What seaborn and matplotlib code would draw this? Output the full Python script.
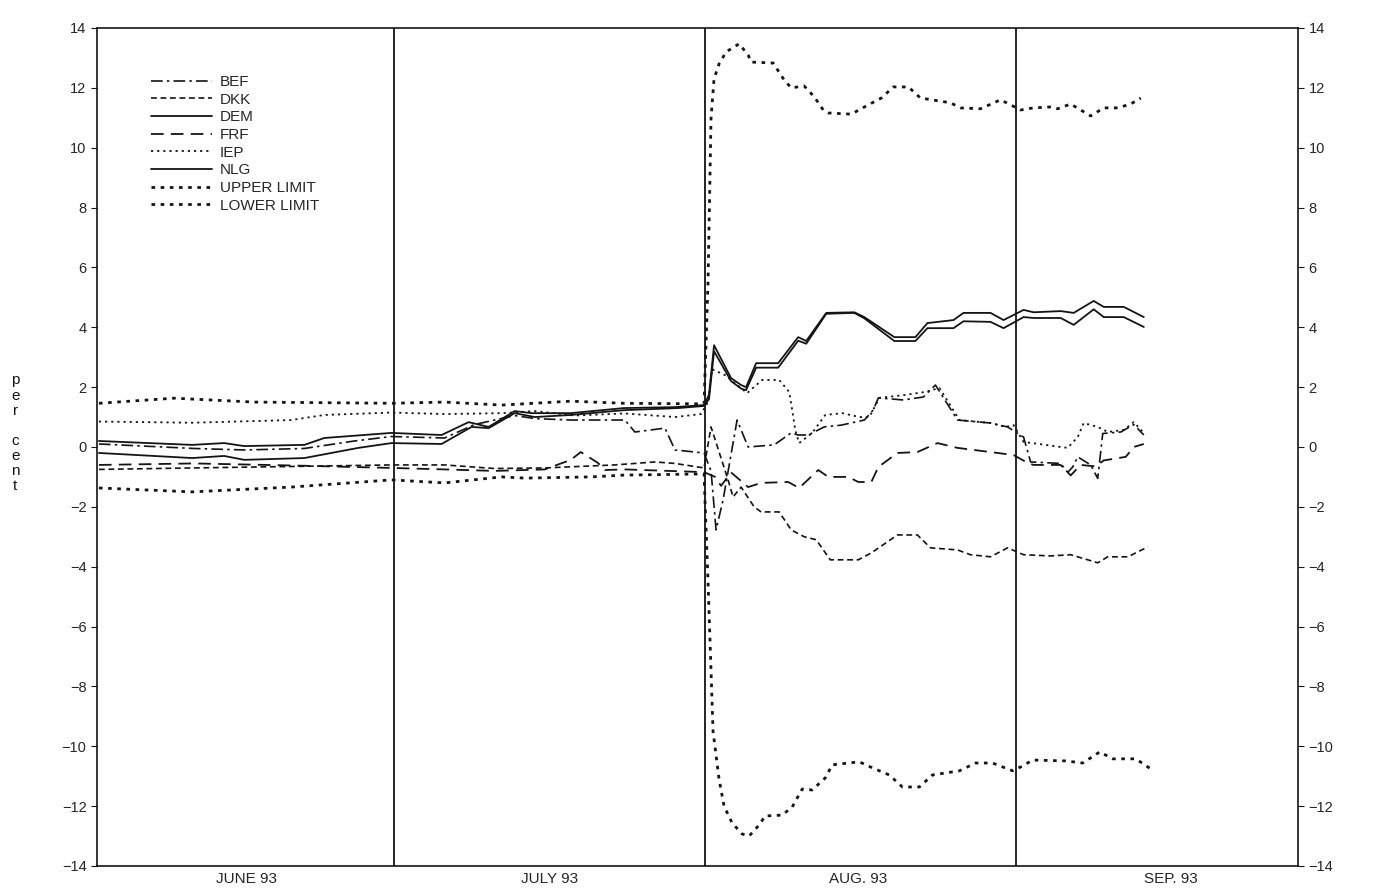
import matplotlib
matplotlib.use("Agg")
import matplotlib.pyplot as plt
import seaborn as sns
import pandas as pd

# Dane: (dzien od 1 czerwca 1993, odchylenie w %)
bef = [(0.5, 0.1), (10, -0.05), (15, -0.1), (21, -0.05), (26, 0.2), (29.7, 0.35), (35, 0.3), (38, 0.75),
       (42, 1.05), (44, 0.95), (47.6, 0.9), (53, 0.9), (54, 0.5), (57, 0.63), (58, -0.1), (60.9, -0.2),
       (61.6, -0.8), (62.1, -2.77), (62.8, -1.77), (64.2, 0.9), (65.3, 0.0), (67.9, 0.07), (69.6, 0.47),
       (70.3, 0.4), (71.3, 0.4), (72.9, 0.67), (74.6, 0.73), (76.9, 0.9), (77.8, 1.24), (78.3, 1.64),
       (80.8, 1.57), (82.8, 1.67), (84.0, 2.07), (86.2, 0.9), (89.5, 0.8), (91.2, 0.67), (92.8, 0.33),
       (93.5, -0.5), (96.5, -0.55), (97.2, -0.85), (97.7, -0.67), (98.2, -0.33), (99.5, -0.6),
       (100.2, -1.05), (100.7, 0.45), (102.5, 0.5), (103.8, 0.75), (104.8, 0.4)]
dkk = [(0.5, -0.75), (10, -0.7), (20, -0.65), (29.7, -0.6), (35, -0.6), (40, -0.72), (45, -0.7), (52, -0.6),
       (56, -0.5), (58, -0.55), (60.9, -0.7), (61.6, 0.67), (63.3, -1.1), (63.8, -1.67), (64.6, -1.34),
       (65.9, -2.0), (66.6, -2.17), (68.4, -2.17), (69.6, -2.77), (70.9, -3.0), (72.1, -3.1), (73.5, -3.77),
       (76.3, -3.77), (77.6, -3.54), (80.2, -2.94), (82.2, -2.94), (83.5, -3.37), (86.2, -3.44),
       (87.5, -3.6), (89.5, -3.67), (91.2, -3.37), (92.8, -3.6), (95.5, -3.64), (97.5, -3.6),
       (100.2, -3.87), (101.2, -3.67), (103.2, -3.67), (105.2, -3.34)]
dem = [(0.5, -0.2), (9.8, -0.37), (13, -0.3), (15, -0.43), (21, -0.37), (26.4, -0.03), (29.7, 0.13),
       (34.7, 0.1), (37.7, 0.67), (39.4, 0.63), (42, 1.13), (44, 1.0), (47.6, 1.07), (52.9, 1.23),
       (58.3, 1.3), (60.9, 1.37), (61.4, 1.6), (61.9, 3.2), (63.6, 2.2), (64.6, 1.95), (65.1, 1.9),
       (66.1, 2.65), (68.3, 2.65), (70.3, 3.55), (71.1, 3.45), (73.1, 4.45), (75.9, 4.48), (76.9, 4.3),
       (79.9, 3.54), (82, 3.54), (83.2, 3.97), (85.8, 3.97), (86.8, 4.2), (89.5, 4.18), (90.8, 3.97),
       (92.8, 4.34), (93.8, 4.31), (96.5, 4.31), (97.8, 4.08), (99.8, 4.6), (100.8, 4.34), (102.8, 4.34),
       (104.8, 4.01)]
frf = [(0.5, -0.6), (10, -0.55), (20, -0.62), (29.7, -0.7), (35, -0.75), (40, -0.8), (45, -0.75),
       (47.6, -0.43), (48.6, -0.17), (50.3, -0.53), (51, -0.77), (53, -0.75), (60.9, -0.84), (62.0, -1.0),
       (62.6, -1.3), (63.6, -0.85), (65.3, -1.34), (66.6, -1.2), (69.3, -1.17), (70.4, -1.37), (72.3, -0.77),
       (73.3, -1.0), (75.3, -1.0), (76.3, -1.17), (77.6, -1.17), (78.3, -0.67), (80.2, -0.2), (82.2, -0.17),
       (84.2, 0.13), (86.2, -0.03), (89.5, -0.17), (91.8, -0.27), (93.2, -0.53), (93.8, -0.6), (96.5, -0.6),
       (97.5, -0.95), (98.5, -0.6), (100.0, -0.65), (100.8, -0.45), (103.0, -0.33), (103.8, 0.0),
       (104.8, 0.1)]
iep = [(0.5, 0.85), (9.8, 0.81), (19.7, 0.9), (23, 1.07), (29.7, 1.15), (35, 1.1), (40.7, 1.13), (44, 1.2),
       (48, 1.05), (53, 1.12), (58, 1.0), (60.6, 1.1), (61.3, 1.5), (61.7, 2.6), (63.0, 2.4), (65.2, 1.8),
       (66.7, 2.24), (68.4, 2.24), (69.4, 1.84), (69.7, 1.24), (70.0, 0.57), (70.4, 0.13), (71.7, 0.47),
       (73.0, 1.07), (74.7, 1.13), (76.4, 1.0), (77.4, 1.0), (78.4, 1.64), (81.0, 1.74), (83.0, 1.84),
       (84.4, 1.97), (86.4, 0.9), (89.5, 0.8), (91.0, 0.67), (91.8, 0.73), (92.8, 0.17), (96.5, 0.0),
       (97.2, -0.03), (98.2, 0.33), (98.8, 0.8), (100.2, 0.67), (101.2, 0.5), (102.8, 0.57), (103.8, 0.83),
       (104.8, 0.47)]
nlg = [(0.5, 0.2), (9.8, 0.07), (13, 0.13), (15, 0.03), (21, 0.07), (23, 0.3), (29.7, 0.47), (34.7, 0.4),
       (37.4, 0.83), (39.4, 0.67), (42, 1.2), (43.7, 1.13), (47.6, 1.13), (52.9, 1.3), (57.9, 1.33),
       (60.9, 1.4), (61.4, 1.75), (61.9, 3.4), (63.6, 2.3), (64.6, 2.07), (65.1, 2.0), (66.1, 2.8),
       (68.3, 2.8), (70.3, 3.67), (71.1, 3.54), (73.1, 4.48), (75.9, 4.5), (76.9, 4.34), (79.9, 3.67),
       (82, 3.67), (83.2, 4.14), (85.8, 4.24), (86.8, 4.48), (89.5, 4.48), (90.8, 4.24), (92.8, 4.58),
       (93.8, 4.5), (96.5, 4.54), (97.8, 4.48), (99.8, 4.88), (100.8, 4.68), (102.8, 4.68), (104.8, 4.34)]
upper = [(0.5, 1.46), (8, 1.63), (16, 1.5), (29.7, 1.46), (35, 1.5), (40.7, 1.4), (47.6, 1.53), (52.9, 1.46),
         (60.9, 1.44), (61.3, 5.5), (61.6, 11.0), (61.9, 12.3), (62.4, 12.8), (63.1, 13.2), (64.4, 13.47),
         (65.3, 13.1), (65.6, 12.86), (67.8, 12.83), (68.9, 12.26), (69.6, 12.0), (70.9, 12.06), (71.9, 11.7),
         (72.8, 11.26), (73.3, 11.16), (75.6, 11.12), (76.9, 11.36), (78.6, 11.66), (79.8, 12.03),
         (81.3, 12.03), (82.5, 11.66), (85.5, 11.5), (86.5, 11.33), (88.5, 11.3), (90.5, 11.6), (91.5, 11.43),
         (92.5, 11.26), (93.8, 11.33), (95.5, 11.36), (96.2, 11.3), (97.5, 11.46), (99.5, 11.06),
         (100.8, 11.33), (102.2, 11.33), (103.5, 11.46), (104.5, 11.66)]
lower = [(0.5, -1.37), (9.8, -1.5), (19.7, -1.34), (29.7, -1.1), (35, -1.2), (40.7, -1.0), (43, -1.04),
         (49.6, -1.0), (52.9, -0.94), (60.9, -0.9), (61.3, -4.5), (61.8, -9.5), (62.4, -11.1), (62.9, -12.0),
         (63.7, -12.56), (64.7, -12.93), (65.4, -13.0), (66.4, -12.63), (67.0, -12.33), (68.7, -12.3),
         (69.7, -12.03), (70.7, -11.43), (71.7, -11.46), (73.0, -11.06), (73.7, -10.62), (76.4, -10.52),
         (77.7, -10.72), (79.4, -10.96), (80.7, -11.36), (82.4, -11.36), (83.7, -10.96), (86.4, -10.82),
         (88.0, -10.56), (89.7, -10.56), (91.7, -10.82), (92.7, -10.66), (93.7, -10.46), (97.0, -10.49),
         (98.7, -10.56), (100.4, -10.19), (101.7, -10.42), (104.0, -10.42), (105.5, -10.76)]

series_names = ["BEF", "DKK", "DEM", "FRF", "IEP", "NLG", "UPPER LIMIT", "LOWER LIMIT"]
month_starts = [30, 61, 92]
month_centers = [15.2, 45.5, 76.3, 107.5]
month_labels = ["JUNE 93", "JULY 93", "AUG. 93", "SEP. 93"]
y_ticks = list(range(-14, 15, 2))

# Style linii
styles = {
    "BEF": dict(linestyle=(0, (7, 2.5, 1.5, 2.5)), linewidth=1.2),
    "DKK": dict(linestyle=(0, (3.5, 2.2)), linewidth=1.2),
    "DEM": dict(linestyle="-", linewidth=1.3),
    "FRF": dict(linestyle=(0, (7, 4)), linewidth=1.3),
    "IEP": dict(linestyle=(0, (1.2, 2.2)), linewidth=1.3),
    "NLG": dict(linestyle="-", linewidth=1.3),
    "UPPER LIMIT": dict(linestyle=(0, (1.3, 2.0)), linewidth=2.0),
    "LOWER LIMIT": dict(linestyle=(0, (1.3, 2.0)), linewidth=2.0),
}

data_map = dict(zip(series_names, [bef, dkk, dem, frf, iep, nlg, upper, lower]))
rows = []
for name, pts in data_map.items():
    for d, v in pts:
        rows.append({"series": name, "day": d, "value": v})
df = pd.DataFrame(rows)

sns.set_style("ticks")
plt.rcParams["font.family"] = ["Liberation Sans", "DejaVu Sans"]

fig = plt.figure(figsize=(13.83, 8.88), dpi=100)
ax = fig.add_axes([0.0701, 0.0248, 0.8685, 0.9437])

ink = "#141414"
for name in series_names:
    sub = df[df["series"] == name]
    sns.lineplot(data=sub, x="day", y="value", ax=ax, color=ink, label=name,
                 estimator=None, sort=False, **styles[name])

for m in month_starts:
    ax.axvline(m, color=ink, linewidth=1.3)

ax.set_xlim(0.3, 120.2)
ax.set_ylim(-14, 14)
ax.set_yticks(y_ticks)
ax.set_yticklabels([f"{t}".replace("-", "\u2212") for t in y_ticks])
ax.set_xticks(month_centers)
ax.set_xticklabels(month_labels)
ax.tick_params(axis="x", length=0, pad=4, labelsize=11)
ax.tick_params(axis="y", direction="out", length=4, labelsize=10.5, left=True, right=True,
               labelleft=True, labelright=True, color=ink)
ax.set_xlabel("")
ax.set_ylabel("")
for sp in ax.spines.values():
    sp.set_color(ink)
    sp.set_linewidth(1.2)

ax.legend(loc="upper left", bbox_to_anchor=(0.04, 0.951), frameon=False, fontsize=11,
          handlelength=4.0, handletextpad=0.5, labelspacing=0.24, borderaxespad=0)

fig.text(0.011, 0.512, "p\ne\nr\n\nc\ne\nn\nt", ha="center", va="center", fontsize=11,
         linespacing=1.1, color=ink)

fig.savefig("out.png", dpi=100, facecolor="white")
